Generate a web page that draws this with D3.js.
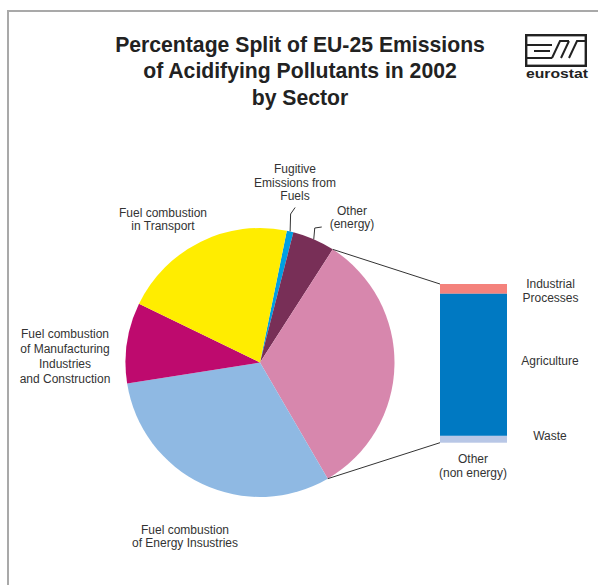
<!DOCTYPE html>
<html>
<head>
<meta charset="utf-8">
<script src="https://cdn.jsdelivr.net/npm/d3@7"></script>
<style>
  html, body { margin: 0; padding: 0; background: #fff; }
  svg { display: block; font-family: "Liberation Sans", Arial, Helvetica, sans-serif; }
</style>
</head>
<body>
<svg id="chart" width="598" height="585"></svg>
<script>
// Sector shares of EU-25 acidifying emissions, 2002 (%), clockwise from the fugitive slice
const sectors = ["Fugitive", "OtherEnergy", "OtherNonEnergy", "Energy", "Manufacturing", "Transport"];
const sectorShares = [0.8, 5.1, null, 30.9, 9.7, 21.0];
const sectorColors = ["#009fe3", "#782f57", "#d787ad", "#8fb9e3", "#be0a6e", "#ffed00"];

// Breakdown of the "Other (non energy)" slice, top to bottom of the bar
const nonEnergyParts = ["Industrial Processes", "Agriculture", "Waste"];
const nonEnergyShares = [2.0, 29.1, 1.4];
const nonEnergyColors = ["#f4827c", "#0079c2", "#b8c7e6"];

const titleLines = [
  "Percentage Split of EU-25 Emissions",
  "of Acidifying Pollutants in 2002",
  "by Sector"
];

// the non-energy slice is the sum of its parts
const nonEnergyTotal = d3.sum(nonEnergyShares);
const pieValues = sectorShares.map(v => v === null ? nonEnergyTotal : v);

const svg = d3.select("#chart");
const textColor = "#333";

// frame (top and left rules)
svg.append("path")
  .attr("d", "M8,585 V11 H598")
  .attr("fill", "none")
  .attr("stroke", "#a9a9a9")
  .attr("stroke-width", 2);

// title
svg.append("g").selectAll("text")
  .data(titleLines)
  .join("text")
  .attr("x", 300)
  .attr("y", (d, i) => 51.5 + i * 26.8)
  .attr("text-anchor", "middle")
  .attr("font-size", 21.2)
  .attr("font-weight", "bold")
  .attr("fill", "#222")
  .text(d => d);

// eurostat logo
const logo = svg.append("g").attr("transform", "translate(525,34)");
logo.append("rect").attr("x", 1.2).attr("y", 1.2).attr("width", 59.6).attr("height", 30.6)
  .attr("fill", "none").attr("stroke", "#222").attr("stroke-width", 2.4);
logo.append("path")
  .attr("d", "M1,11 H27 M9,17 H25 M1,24 H27 M27,24 L35,7 H44 M36,24 L44,7 M44,24 L52,7 H61")
  .attr("fill", "none").attr("stroke", "#222").attr("stroke-width", 2);
logo.append("text")
  .attr("x", 1).attr("y", 44)
  .attr("font-size", 13.5)
  .attr("font-weight", "bold")
  .attr("textLength", 62)
  .attr("lengthAdjust", "spacingAndGlyphs")
  .attr("fill", "#222")
  .text("eurostat");

// pie
const cx = 260, cy = 362.5, r = 134.5;
const startAngle = 11.5 * Math.PI / 180;
const pie = d3.pie().sort(null).value(d => d)
  .startAngle(startAngle).endAngle(startAngle + 2 * Math.PI);
const arcs = pie(pieValues);
const arc = d3.arc().innerRadius(0).outerRadius(r);

const pieG = svg.append("g").attr("transform", `translate(${cx},${cy})`);
pieG.selectAll("path")
  .data(arcs)
  .join("path")
  .attr("d", arc)
  .attr("fill", (d, i) => sectorColors[i]);

const onRim = a => [cx + r * Math.sin(a), cy - r * Math.cos(a)];

// stacked bar for the non-energy breakdown
const barX0 = 440, barX1 = 507;
const y = d3.scaleLinear().domain([0, nonEnergyTotal]).range([442.7, 284]);
const stack = [];
let acc = nonEnergyTotal;
nonEnergyShares.forEach((v, i) => { stack.push({ top: acc, bottom: acc - v, i }); acc -= v; });
svg.append("g").selectAll("rect")
  .data(stack)
  .join("rect")
  .attr("x", barX0)
  .attr("width", barX1 - barX0)
  .attr("y", d => y(d.top))
  .attr("height", d => y(d.bottom) - y(d.top))
  .attr("fill", d => nonEnergyColors[d.i]);

// connectors from the non-energy slice to the bar
const ne = arcs[2];
const pStart = onRim(ne.startAngle), pEnd = onRim(ne.endAngle);
svg.append("g").attr("stroke", "#333").attr("stroke-width", 1).attr("fill", "none")
  .selectAll("line")
  .data([[pStart, [barX0, y(nonEnergyTotal)]], [pEnd, [barX0, y(0)]]])
  .join("line")
  .attr("x1", d => d[0][0]).attr("y1", d => d[0][1])
  .attr("x2", d => d[1][0]).attr("y2", d => d[1][1]);

// leader lines for the small slices
const leader = d3.line();
const fugMid = onRim((arcs[0].startAngle + arcs[0].endAngle) / 2);
const othMid = onRim((arcs[1].startAngle + arcs[1].endAngle) / 2);
svg.append("path")
  .attr("d", leader([fugMid, [fugMid[0] + 0.5, 214], [fugMid[0] + 5, 207.5]]))
  .attr("fill", "none").attr("stroke", "#333").attr("stroke-width", 1);
svg.append("path")
  .attr("d", leader([othMid, [othMid[0] + 1, 228], [othMid[0] + 8, 227]]))
  .attr("fill", "none").attr("stroke", "#333").attr("stroke-width", 1);

// labels
const labels = [
  { lines: ["Fugitive", "Emissions from", "Fuels"], x: 295, y: 173, lh: 13.5 },
  { lines: ["Other", "(energy)"], x: 352, y: 215, lh: 12.8 },
  { lines: ["Fuel combustion", "in Transport"], x: 163, y: 217, lh: 13.2 },
  { lines: ["Fuel combustion", "of Manufacturing", "Industries", "and Construction"], x: 65, y: 338, lh: 15 },
  { lines: ["Fuel combustion", "of Energy Insustries"], x: 185, y: 533.5, lh: 13.3 },
  { lines: ["Industrial", "Processes"], x: 550.5, y: 288, lh: 13.5 },
  { lines: ["Agriculture"], x: 550, y: 365, lh: 13.5 },
  { lines: ["Waste"], x: 550, y: 439.5, lh: 13.5 },
  { lines: ["Other", "(non energy)"], x: 473, y: 463, lh: 13.5 }
];
const lg = svg.append("g").attr("font-size", 12).attr("fill", textColor).attr("text-anchor", "middle");
labels.forEach(l => {
  const t = lg.append("text").attr("x", l.x).attr("y", l.y);
  l.lines.forEach((s, i) => {
    t.append("tspan").attr("x", l.x).attr("dy", i === 0 ? 0 : l.lh).text(s);
  });
});
</script>
</body>
</html>
